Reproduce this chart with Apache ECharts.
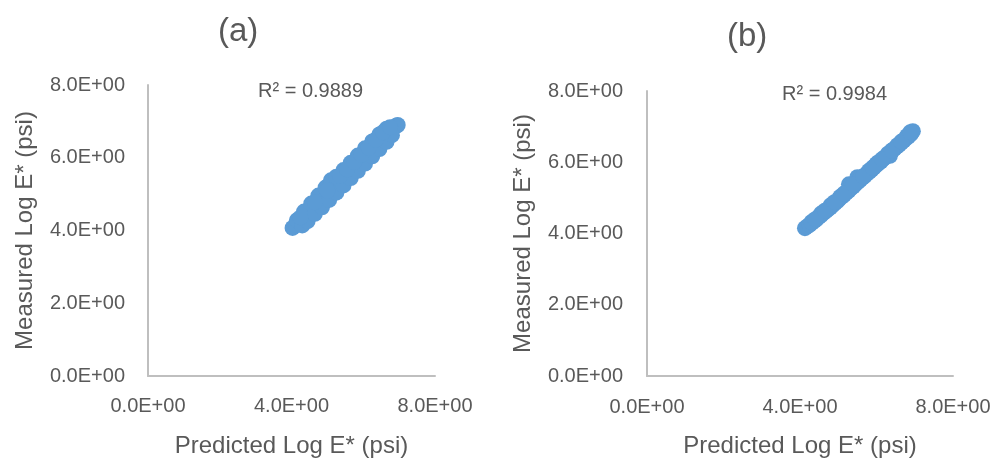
<!DOCTYPE html>
<html>
<head>
<meta charset="utf-8">
<script src="https://cdn.jsdelivr.net/npm/echarts@6/dist/echarts.min.js"></script>
<style>
  html, body { margin: 0; padding: 0; background: #fff; }
  #chart { width: 995px; height: 463px; }
</style>
</head>
<body>
<div id="chart"></div>
<script>
// (a) predicted vs measured log E*  (centre band, then upper and lower edge of the cloud)
var predA = [4.03, 4.12, 4.22, 4.32, 4.42, 4.52, 4.62, 4.72, 4.82, 4.92, 5.02, 5.12, 5.22, 5.32, 5.42, 5.52,
             5.62, 5.72, 5.82, 5.92, 6.02, 6.12, 6.22, 6.32, 6.42, 6.52, 6.62, 6.72, 6.82, 6.92, 6.96,
             4.15, 4.35, 4.55, 4.75, 4.95, 5.10, 5.25, 5.45, 5.65, 5.85, 6.05, 6.25, 6.45, 6.65,
             4.30, 4.45, 4.65, 4.85, 5.05, 5.25, 5.45, 5.65, 5.85, 6.05, 6.25, 6.45, 6.65, 6.80,
             4.25, 4.65, 5.00, 5.35, 5.55, 5.75, 5.95, 6.15, 6.35, 6.55, 6.75];
var measA = [4.07, 4.15, 4.24, 4.33, 4.43, 4.52, 4.63, 4.72, 4.84, 4.93, 5.04, 5.13, 5.24, 5.33, 5.45, 5.53,
             5.64, 5.73, 5.85, 5.94, 6.05, 6.13, 6.24, 6.33, 6.44, 6.52, 6.62, 6.71, 6.80, 6.88, 6.90,
             4.28, 4.52, 4.74, 4.96, 5.18, 5.38, 5.48, 5.66, 5.86, 6.06, 6.26, 6.45, 6.64, 6.80,
             4.14, 4.26, 4.46, 4.64, 4.84, 5.04, 5.24, 5.44, 5.64, 5.84, 6.04, 6.24, 6.44, 6.62,
             4.36, 4.78, 5.10, 5.50, 5.68, 5.88, 6.08, 6.28, 6.50, 6.70, 6.84];
// (b) predicted vs measured log E*
var predB = [4.13, 4.19, 4.25, 4.31, 4.37, 4.43, 4.49, 4.55, 4.61, 4.67, 4.73, 4.79, 4.85, 4.91, 4.97, 5.03, 5.09, 5.15,
             5.21, 5.27, 5.33, 5.39, 5.45, 5.51, 5.57, 5.63, 5.69, 5.75, 5.81, 5.87, 5.93, 5.99, 6.05, 6.11, 6.17, 6.23,
             6.29, 6.35, 6.41, 6.47, 6.53, 6.59, 6.65, 6.71, 6.77, 6.83, 6.89, 6.95, 5.28, 5.50, 6.00, 6.35,
             4.30, 4.55, 4.80, 5.05, 5.30, 5.55, 5.80, 6.05, 6.30, 6.55, 6.80,
             4.40, 4.65, 4.90, 5.15, 5.40, 5.65, 5.90, 6.15, 6.40, 6.65, 6.88];
var measB = [4.15, 4.20, 4.24, 4.30, 4.35, 4.40, 4.46, 4.51, 4.57, 4.62, 4.68, 4.73, 4.79, 4.85, 4.90, 4.97, 5.03, 5.08,
             5.15, 5.20, 5.27, 5.32, 5.39, 5.44, 5.50, 5.56, 5.61, 5.68, 5.73, 5.79, 5.85, 5.91, 5.97, 6.02, 6.09, 6.14,
             6.20, 6.26, 6.32, 6.38, 6.44, 6.49, 6.55, 6.61, 6.67, 6.72, 6.78, 6.87, 5.38, 5.58, 5.95, 6.18,
             4.32, 4.56, 4.79, 5.03, 5.28, 5.52, 5.76, 6.00, 6.24, 6.48, 6.74,
             4.40, 4.64, 4.88, 5.12, 5.37, 5.61, 5.85, 6.09, 6.33, 6.58, 6.84];
var xTicks = [0, 4, 8];
var yTicks = [0, 2, 4, 6, 8];
var panelTitles = ['(a)', '(b)'];
var r2Labels = ['R\u00b2 = 0.9889', 'R\u00b2 = 0.9984'];

function pairs(xs, ys) {
    var out = [];
    for (var i = 0; i < xs.length; i++) out.push([xs[i], ys[i]]);
    return out;
}

var grey = '#595959';
var font = 'Liberation Sans';
function fmt(v) { return v.toFixed(1) + 'E+00'; }

function xAxis(idx, labelGap) {
    return {
        type: 'value', gridIndex: idx, min: xTicks[0], max: xTicks[xTicks.length - 1], interval: 4,
        name: 'Predicted Log E* (psi)', nameLocation: 'middle', nameGap: 58,
        nameTextStyle: { color: grey, fontSize: 24, fontFamily: font },
        axisLine: { lineStyle: { color: '#bfbfbf', width: 2 } },
        axisTick: { show: false }, splitLine: { show: false },
        axisLabel: { formatter: fmt, color: grey, fontSize: 20, fontFamily: font, margin: labelGap }
    };
}
function yAxis(idx, labelGap, nameGap) {
    return {
        type: 'value', gridIndex: idx, min: yTicks[0], max: yTicks[yTicks.length - 1], interval: 2,
        name: 'Measured Log E* (psi)', nameLocation: 'middle', nameGap: nameGap,
        nameTextStyle: { color: grey, fontSize: 24, fontFamily: font },
        axisLine: { show: true, lineStyle: { color: '#bfbfbf', width: 2 } },
        axisTick: { show: false }, splitLine: { show: false },
        axisLabel: { formatter: fmt, color: grey, fontSize: 20, fontFamily: font, margin: labelGap }
    };
}

var chart = echarts.init(document.getElementById('chart'));
var option = {
    animation: false,
    backgroundColor: '#fff',
    grid: [
        { left: 148, top: 85, width: 287, height: 292 },
        { left: 647, top: 91, width: 306, height: 289 }
    ],
    xAxis: [xAxis(0, 20), xAxis(1, 21)],
    yAxis: [yAxis(0, 23, 111), yAxis(1, 24, 112)],
    graphic: [
        { type: 'text', left: 218, top: 15, style: { text: panelTitles[0], fill: grey, font: '33px ' + font } },
        { type: 'text', left: 727, top: 20, style: { text: panelTitles[1], fill: grey, font: '33px ' + font } },
        { type: 'text', left: 258, top: 81, style: { text: r2Labels[0], fill: grey, font: '20px ' + font } },
        { type: 'text', left: 782, top: 84, style: { text: r2Labels[1], fill: grey, font: '20px ' + font } }
    ],
    series: [
        {
            type: 'scatter', xAxisIndex: 0, yAxisIndex: 0, data: pairs(predA, measA),
            symbolSize: 16, itemStyle: { color: '#5b9bd5', opacity: 1 }
        },
        {
            type: 'scatter', xAxisIndex: 1, yAxisIndex: 1, data: pairs(predB, measB),
            symbolSize: 16, itemStyle: { color: '#5b9bd5', opacity: 1 }
        }
    ]
};
chart.setOption(option);
</script>
</body>
</html>
